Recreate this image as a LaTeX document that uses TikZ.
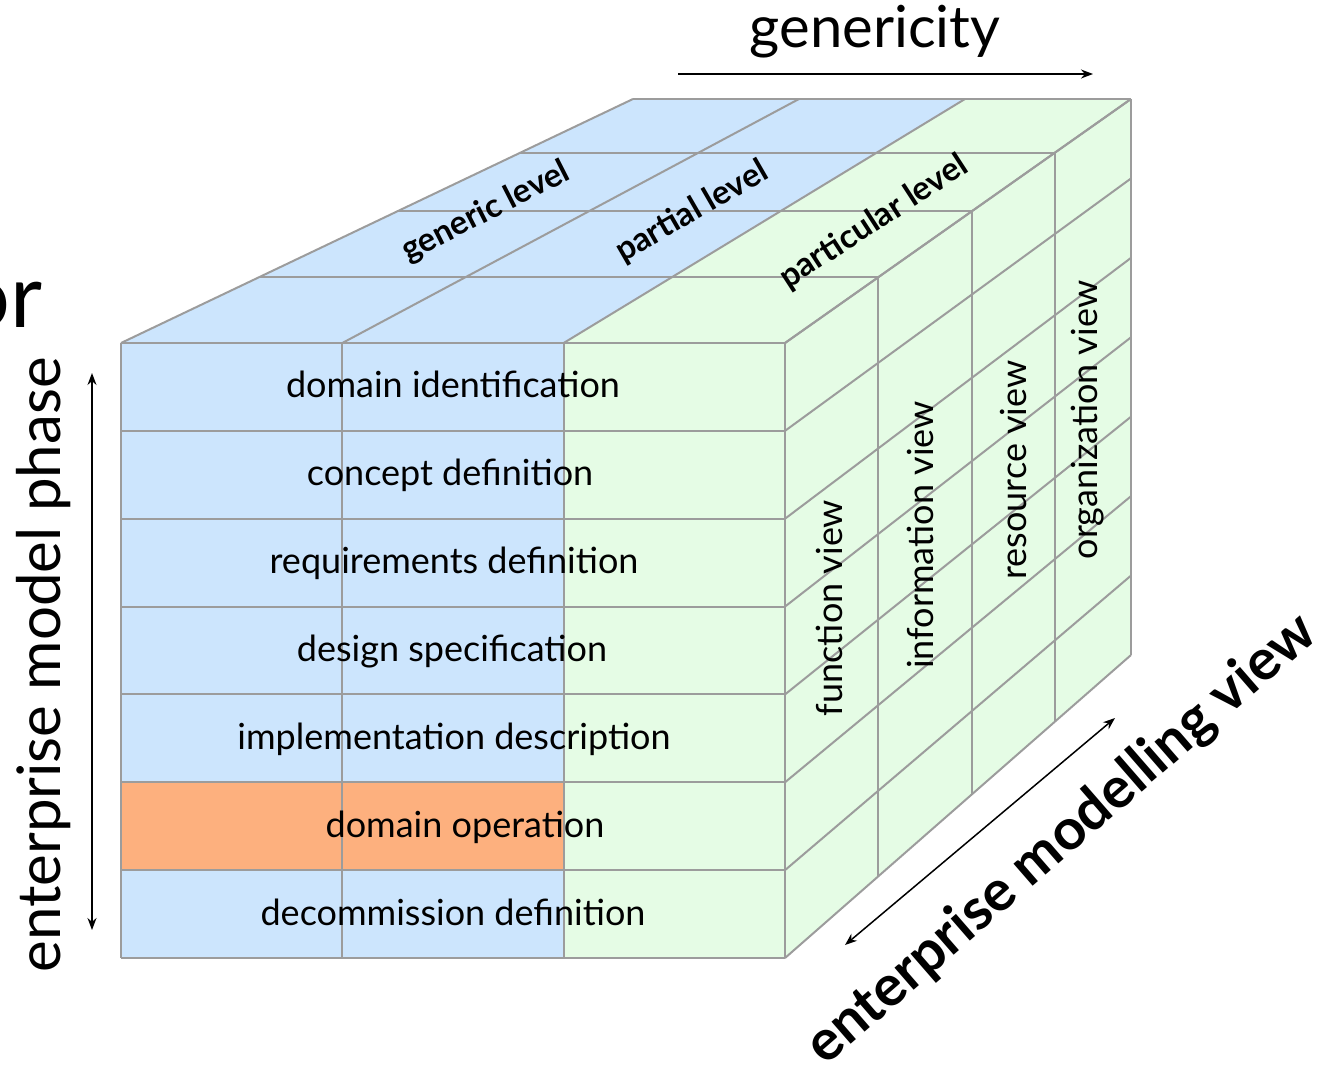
\documentclass[tikz,border=0pt]{standalone}
\usepackage{fontspec}
\setmainfont{Lato}
\usetikzlibrary{arrows.meta, calc}
\definecolor{celeste}{HTML}{CCE5FD}
\definecolor{verdeclaro}{HTML}{E5FCE5}
\definecolor{naranja}{HTML}{FDB07E}
\definecolor{gris}{HTML}{9C9C9C}

\begin{document}
\begin{tikzpicture}[
  x=1pt, y=-1pt,
  rejilla/.style={draw=gris, line width=2pt},
  fila/.style={anchor=base, font=\fontsize{36}{40}\selectfont},
  vista/.style={rotate=90, font=\fontsize{36}{40}\selectfont},
  nivel/.style={font=\bfseries\fontsize{33}{36}\selectfont},
  eje/.style={anchor=base, font=\fontsize{58}{62}\selectfont},
  flecha/.style={-{Stealth[length=12pt, width=9pt]}, line width=1.5pt},
  doble/.style={{Stealth[length=12pt, width=9pt]}-{Stealth[length=12pt, width=9pt]}, line width=1.5pt},
]
\useasboundingbox (0,0) rectangle (1333,1084);
\clip (0,0) rectangle (1333,1084);

% --- Esquinas del cubo ---
\coordinate (ftl) at (121,343);
\coordinate (ftr) at (785,343);
\coordinate (fbr) at (785,958);
\coordinate (fbl) at (121,958);
\coordinate (btl) at (633,99);
\coordinate (btr) at (1131,99);
\coordinate (bbr) at (1131,655);

% columnas (delante / detras) y cortes en profundidad
\foreach \j in {0,...,3} {
  \coordinate (f\j) at ($(ftl)!\j/3!(ftr)$);
  \coordinate (b\j) at ($(btl)!\j/3!(btr)$);
}
\foreach \t [count=\k from 0] in {0,0.27,0.54,0.78,1} {
  \coordinate (l\k) at ($(ftl)!\t!(btl)$);
  \coordinate (s\k) at ($(ftr)!\t!(btr)$);
  \coordinate (u\k) at ($(fbr)!\t!(bbr)$);
}

% --- Caras ---
\fill[celeste] (f0) -- (f2) -- (b2) -- (b0) -- cycle;
\fill[verdeclaro] (f2) -- (f3) -- (b3) -- (b2) -- cycle;
\fill[verdeclaro] (ftr) -- (btr) -- (bbr) -- (fbr) -- cycle;
\fill[celeste] (ftl) rectangle ($(fbl)!2/3!(fbr)$);
\fill[verdeclaro] (f2) rectangle (fbr);
\fill[naranja] ($(ftl)!5/7!(fbl)$) rectangle ($(ftl)!6/7!(fbl) + (f2) - (ftl)$);

% --- Rejilla ---
\foreach \j in {0,...,3} \draw[rejilla] (f\j) -- (b\j);
\foreach \k in {0,...,4} \draw[rejilla] (l\k) -- (s\k);
\foreach \k in {0,...,4} \draw[rejilla] (s\k) -- (u\k);
\foreach \i in {0,...,7} \draw[rejilla] ($(ftr)!\i/7!(fbr)$) -- ($(btr)!\i/7!(bbr)$);
\foreach \i in {0,...,7} \draw[rejilla] ($(ftl)!\i/7!(fbl)$) -- ($(ftr)!\i/7!(fbr)$);
\foreach \j in {0,...,3} \draw[rejilla] (f\j) -- ($(fbl)!\j/3!(fbr)$);

% --- Fases (cara frontal) ---
\foreach \x/\txt [count=\i from 0] in {453/domain identification, 450/concept definition,
    454/requirements definition, 452/design specification,
    454/implementation description, 465/domain operation, 453/decommission definition}
  \node[fila] (fase\i) at (\x,{397.9+87.86*\i}) {\txt};

% --- Vistas (cara lateral) ---
\node[vista] (funcion) at (829,608) {function view};
\node[vista] (informacion) at (920,535) {information view};
\node[vista] (recurso) at (1013,470) {resource view};
\node[vista] (organizacion) at (1088,420) {organization view};

% --- Niveles (cara superior) ---
\node[nivel, rotate=27] (generico) at (486,212) {generic level};
\node[nivel, rotate=30] (parcial) at (692,212) {partial level};
\node[nivel, rotate=33] (particular) at (874,222) {particular level};

% --- Ejes ---
\node[eje] (genericidad) at (875,47) {genericity};
\coordinate (gen0) at (678,74);
\coordinate (gen1) at (1093,74);
\draw[flecha] (gen0) -- (gen1);

\node[eje, rotate=90, font=\fontsize{60}{64}\selectfont] (fase) at (60,665) {enterprise model phase};
\coordinate (fase0) at (92,373);
\coordinate (fase1) at (92,930);
\draw[doble] (fase0) -- (fase1);

\node[rotate=41, font=\bfseries\fontsize{57}{60}\selectfont] (modelado) at (1062,840) {enterprise modelling view};
\coordinate (vista0) at (845,945);
\coordinate (vista1) at (1115,718);
\draw[doble] (vista0) -- (vista1);

\node[anchor=base east, font=\fontsize{88}{90}\selectfont] (corte) at (46,327) {or};

\end{tikzpicture}
\end{document}
